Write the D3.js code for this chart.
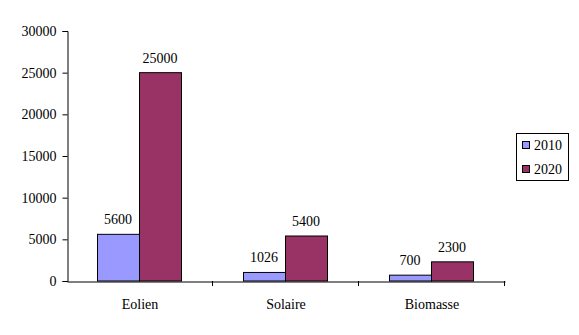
<!DOCTYPE html>
<html><head><meta charset="utf-8">
<script src="https://cdn.jsdelivr.net/npm/d3@7"></script>
<style>body{margin:0;background:#fff}svg{display:block}text{font-family:"Liberation Serif","Times New Roman",serif;font-size:14px;fill:#000}</style>
</head><body><svg id="c" width="579" height="335"></svg>
<script>
const categories = ["Eolien", "Solaire", "Biomasse"];
const seriesNames = ["2010", "2020"];
const values2010 = [5600, 1026, 700];
const values2020 = [25000, 5400, 2300];
const yTicks = [0, 5000, 10000, 15000, 20000, 25000, 30000];
const colors = ["#9999FF", "#993366"];

const svg = d3.select("#c");
const mLeft = 67, mRight = 505, mTop = 31, mBottom = 281;
const x = d3.scaleBand().domain(categories).range([mLeft, mRight]).paddingInner(0).paddingOuter(0);
const y = d3.scaleLinear().domain([0, 30000]).range([mBottom, mTop]);
const inner = d3.scaleBand().domain(seriesNames).range([0, x.bandwidth()]).paddingOuter(0.738).paddingInner(0).align(0.484);

const series = [values2010, values2020];
seriesNames.forEach((s, si) => {
  const g = svg.append("g");
  g.selectAll("rect").data(categories).join("rect")
    .attr("x", c => Math.round(x(c) + inner(s)) + 0.5)
    .attr("y", (c, i) => y(series[si][i]))
    .attr("width", Math.round(inner.bandwidth()))
    .attr("height", (c, i) => y(0) - y(series[si][i]))
    .attr("fill", colors[si]).attr("stroke", "#000").attr("stroke-width", 1);
  g.selectAll("text").data(categories).join("text")
    .attr("x", c => x(c) + inner(s) + inner.bandwidth() / 2)
    .attr("y", (c, i) => y(series[si][i]) - 10)
    .attr("text-anchor", "middle")
    .text((c, i) => series[si][i]);
});

const yAxis = svg.append("g").attr("transform", `translate(${mLeft + 0.5},0)`)
  .call(d3.axisLeft(y).tickValues(yTicks).tickSize(5).tickPadding(6).tickFormat(d3.format("d")));
yAxis.select(".domain").attr("stroke", "#000");
yAxis.selectAll("text").style("font-family", '"Liberation Serif",serif').style("font-size", "14px");

const xAxis = svg.append("g").attr("transform", `translate(0,${mBottom + 0.5})`)
  .call(d3.axisBottom(x).tickSize(0).tickPadding(18));
xAxis.select(".domain").attr("stroke", "#000");
xAxis.selectAll("text").style("font-family", '"Liberation Serif",serif').style("font-size", "14px");
svg.append("g").selectAll("line").data([1, 2, 3]).join("line")
  .attr("x1", d => mLeft + x.bandwidth() * d - 0.5).attr("x2", d => mLeft + x.bandwidth() * d - 0.5)
  .attr("y1", mBottom).attr("y2", mBottom + 5).attr("stroke", "#000");

const lg = svg.append("g");
lg.append("rect").attr("x", 516.5).attr("y", 133.5).attr("width", 52).attr("height", 47).attr("fill", "#fff").attr("stroke", "#000");
seriesNames.forEach((s, i) => {
  lg.append("rect").attr("x", 522.5).attr("y", 141.5 + i * 24).attr("width", 7).attr("height", 7).attr("fill", colors[i]).attr("stroke", "#000");
  lg.append("text").attr("x", 534).attr("y", 150 + i * 24).text(s);
});
</script></body></html>
